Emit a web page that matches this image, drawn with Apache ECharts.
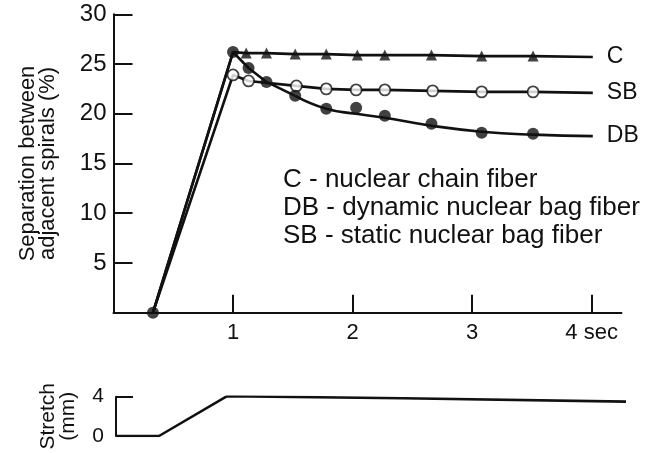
<!DOCTYPE html>
<html>
<head>
<meta charset="utf-8">
<script src="https://cdn.jsdelivr.net/npm/echarts@6/dist/echarts.min.js"></script>
<style>
  html, body { margin: 0; padding: 0; background: #fff; }
  #chart { width: 649px; height: 453px; }
</style>
</head>
<body>
<div id="chart"></div>
<script>
// values: [time (s), separation (%)]
var cLine = [[0.33, 0], [1.0, 26.2], [1.11, 26.1], [1.28, 26.1], [1.52, 26.0], [1.78, 26.0], [2.04, 25.9], [2.27, 25.9], [2.66, 25.9], [3.08, 25.8], [3.51, 25.8], [4.01, 25.7]];
var cMarks = [[1.11, 26.1], [1.28, 26.1], [1.52, 26.0], [1.78, 26.0], [2.04, 25.9], [2.27, 25.9], [2.66, 25.9], [3.08, 25.8], [3.51, 25.8]];
var sbLine = [[0.33, 0], [1.0, 23.9], [1.13, 23.3], [1.53, 22.8], [1.78, 22.5], [2.03, 22.4], [2.27, 22.4], [2.67, 22.3], [3.08, 22.2], [3.51, 22.2], [4.01, 22.1]];
var sbMarks = [[1.0, 23.9], [1.13, 23.3], [1.53, 22.8], [1.78, 22.5], [2.03, 22.4], [2.27, 22.4], [2.67, 22.3], [3.08, 22.2], [3.51, 22.2]];
var dbLine = [[0.33, 0], [1.0, 26.2], [1.13, 24.6], [1.28, 23.2], [1.52, 21.8]];
var dbCurve = [[1.52, 21.8], [1.78, 20.5], [2.03, 20.0], [2.27, 19.6], [2.66, 18.8], [3.08, 18.2], [3.51, 17.9], [4.01, 17.75]];
var dbDots = [[0.33, 0], [1.0, 26.2], [1.13, 24.6], [1.28, 23.2], [1.52, 21.8], [1.78, 20.5], [2.03, 20.6], [2.27, 19.8], [2.66, 19.0], [3.08, 18.1], [3.51, 18.0]];
// stretch trace: [time (s), mm]
var stretch = [[0, 0], [0.36, 0], [0.93, 4.05], [2.4, 3.84], [4.27, 3.5]];

var xTicks = [1, 2, 3, 4];
var yTicks = [5, 10, 15, 20, 25, 30];
var legendLines = ['C - nuclear chain fiber', 'DB - dynamic nuclear bag fiber', 'SB - static nuclear bag fiber'];

var ink = '#111';
var font = 'Liberation Sans, Arial, sans-serif';

var chart = echarts.init(document.getElementById('chart'));

function lineSeries(data, label, smooth) {
    return {
        type: 'line',
        data: data,
        smooth: smooth || false,
        showSymbol: false,
        silent: true,
        lineStyle: { color: ink, width: 2.6 },
        endLabel: label ? {
            show: true, formatter: label, distance: 14,
            color: ink, fontSize: 23, fontFamily: font
        } : { show: false },
        z: 2
    };
}

chart.setOption({
    animation: false,
    backgroundColor: '#fff',
    title: {
        text: legendLines.join('\n'),
        left: 283, top: 166, padding: 0,
        textStyle: { fontSize: 26, lineHeight: 28, fontWeight: 'normal', color: ink, fontFamily: font }
    },
    grid: [
        { left: 113.5, top: 14.3, width: 508, height: 298.4 },
        { left: 116, top: 396.7, width: 510, height: 39.3 }
    ],
    xAxis: [{
        gridIndex: 0, type: 'value', min: 0, max: 4.25,
        axisLine: { lineStyle: { color: ink, width: 2 } },
        axisTick: { inside: true, length: 18, customValues: xTicks, lineStyle: { color: ink, width: 2 } },
        axisLabel: {
            customValues: xTicks, margin: 9, color: ink, fontSize: 22, fontFamily: font,
            formatter: function (v) { return v === 4 ? '4 sec' : String(v); }
        },
        splitLine: { show: false }
    }, {
        gridIndex: 1, type: 'value', min: 0, max: 4.27, show: false
    }],
    yAxis: [{
        gridIndex: 0, type: 'value', min: 0, max: 30,
        name: 'Separation between\nadjacent spirals (%)',
        nameLocation: 'middle', nameGap: 56,
        nameTextStyle: { fontSize: 22, lineHeight: 20, color: ink, fontFamily: font },
        axisLine: { show: true, lineStyle: { color: ink, width: 2 } },
        axisTick: { inside: true, length: 19, customValues: yTicks, lineStyle: { color: ink, width: 2 } },
        axisLabel: { customValues: yTicks, margin: 7, color: ink, fontSize: 24, fontFamily: font },
        splitLine: { show: false }
    }, {
        gridIndex: 1, type: 'value', min: 0, max: 4, interval: 4,
        name: 'Stretch\n(mm)',
        nameLocation: 'middle', nameGap: 38,
        nameTextStyle: { fontSize: 21, lineHeight: 20, color: ink, fontFamily: font },
        axisLine: { show: true, lineStyle: { color: ink, width: 2 } },
        axisTick: { inside: true, length: 17, lineStyle: { color: ink, width: 2 } },
        axisLabel: { margin: 12, color: ink, fontSize: 21, fontFamily: font },
        splitLine: { show: false }
    }],
    series: [
        lineSeries(cLine, 'C'),
        lineSeries(sbLine, 'SB'),
        lineSeries(dbLine),
        lineSeries(dbCurve, 'DB', 0.5),
        {
            type: 'scatter', data: cMarks, symbol: 'triangle', symbolSize: 11, silent: true,
            itemStyle: { color: ink }, z: 3
        },
        {
            type: 'scatter', data: sbMarks, symbol: 'circle', symbolSize: 11, silent: true,
            itemStyle: { color: '#fff', borderColor: ink, borderWidth: 1.8 }, z: 4
        },
        {
            type: 'scatter', data: dbDots, symbol: 'circle', symbolSize: 12, silent: true,
            itemStyle: { color: ink }, z: 5
        },
        {
            type: 'line', xAxisIndex: 1, yAxisIndex: 1, data: stretch, showSymbol: false, silent: true,
            lineStyle: { color: ink, width: 2.6 }
        }
    ]
});
</script>
</body>
</html>
